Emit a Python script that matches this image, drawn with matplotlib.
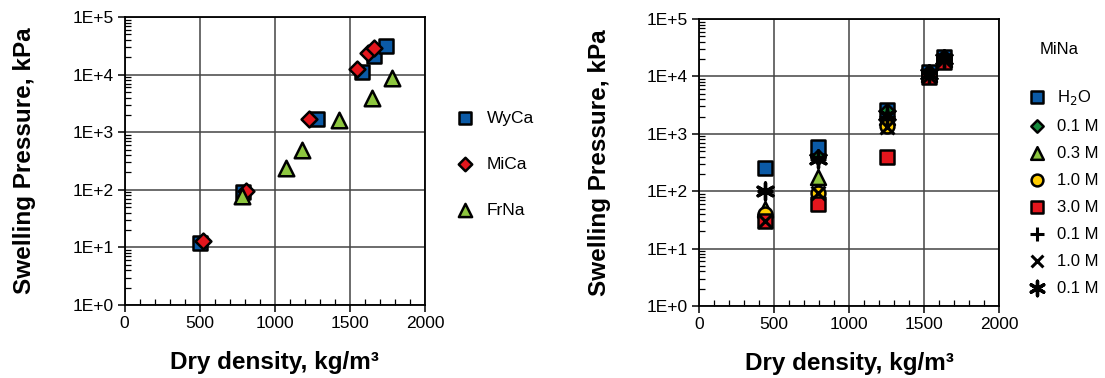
import numpy as np
import matplotlib
matplotlib.use("Agg")
import matplotlib.pyplot as plt
import matplotlib.ticker as mtick

plt.rcParams['font.family'] = ['Liberation Sans', 'DejaVu Sans']

# left panel: calcium / sodium bentonites
wyca_x = [500, 790, 1280, 1580, 1660, 1740]
wyca_y = [12, 90, 1700, 11200, 21000, 31000]
mica_x = [520, 810, 1230, 1550, 1620, 1660]
mica_y = [13, 97, 1700, 12400, 23500, 29000]
frna_x = [780, 1075, 1180, 1430, 1650, 1780]
frna_y = [78, 240, 500, 1650, 4000, 8800]

# right panel: MiNa at different salt solutions
mina_x = [440, 790, 1250, 1530, 1630]
h2o_y = [250, 600, 2600, 12000, 22000]
d01_y = [35, 400, 2500, 12000, 22000]
t03_y = [50, 180, 2000, 11000, 20000]
c10_y = [40, 95, 1350, 10000, 19000]
s30_y = [30, 60, 400, 9600, 18000]
p01_y = [100, 370, 2000, 11500, 20000]
x10_y = [30, 95, 1300, 10000, 19000]
a01_y = [100, 360, 2100, 11000, 20500]

blue = "#0b5aa6"
red = "#e3161d"
lgreen = "#8dc63f"
dgreen = "#168a3c"
yellow = "#ffcc00"

fig = plt.figure(figsize=(11.05, 3.78), dpi=100)
ax1 = fig.add_axes([0.1128, 0.1931, 0.2718, 0.762])
ax2 = fig.add_axes([0.6326, 0.1905, 0.2718, 0.759])


def style_axis(ax):
    ax.set_yscale('log')
    ax.set_xlim(0, 2000)
    ax.set_ylim(1, 1e5)
    ax.set_xticks([0, 500, 1000, 1500, 2000])
    ax.xaxis.set_minor_locator(mtick.MultipleLocator(100))
    ax.yaxis.set_major_locator(mtick.LogLocator(base=10, numticks=10))
    ax.yaxis.set_minor_locator(mtick.LogLocator(base=10, subs=np.arange(2, 10), numticks=10))
    ax.yaxis.set_minor_formatter(mtick.NullFormatter())
    ax.yaxis.set_major_formatter(mtick.FuncFormatter(lambda v, p: "1E+%d" % round(np.log10(v))))
    ax.grid(True, which='major', color='#444444', linewidth=1.1)
    ax.tick_params(which='both', labelsize=12.5, top=False, right=False)
    ax.tick_params(which='major', direction='out', length=5, width=1.1, pad=3)
    ax.tick_params(which='minor', direction='in', length=4, width=0.9)
    for s in ax.spines.values():
        s.set_linewidth(1.3)
    ax.set_xlabel("Dry density, kg/m³", fontsize=17.5, fontweight='bold', labelpad=14)
    ax.set_ylabel("Swelling Pressure, kPa", fontsize=17.5, fontweight='bold', labelpad=26)
    ax.set_axisbelow(True)


style_axis(ax1)
style_axis(ax2)

kw = dict(edgecolors='black', linewidths=1.8, zorder=3)
ax1.scatter(wyca_x, wyca_y, marker='s', s=115, c=blue, label='WyCa', **kw)
ax1.scatter(mica_x, mica_y, marker='D', s=65, c=red, label='MiCa', **kw)
ax1.scatter(frna_x, frna_y, marker='^', s=125, c=lgreen, label='FrNa', **kw)
ax1.legend(loc='upper left', bbox_to_anchor=(1.075, 0.675), frameon=False,
           fontsize=12.5, labelspacing=1.78, handletextpad=0.25, markerscale=0.85,
           borderaxespad=0, borderpad=0)

ax2.scatter(mina_x, h2o_y, marker='s', s=105, c=blue, label='H$_2$O', **kw)
ax2.scatter(mina_x, d01_y, marker='D', s=55, c=dgreen, label='0.1 M', **kw)
ax2.scatter(mina_x, t03_y, marker='^', s=115, c=lgreen, label='0.3 M', **kw)
ax2.scatter(mina_x, c10_y, marker='o', s=100, c=yellow, label='1.0 M', **kw)
ax2.scatter(mina_x, s30_y, marker='s', s=105, c=red, label='3.0 M', **kw)
ax2.scatter(mina_x, p01_y, marker='+', s=130, c='black', linewidths=2.2, zorder=3, label='0.1 M')
ax2.scatter(mina_x, x10_y, marker='x', s=100, c='black', linewidths=2.2, zorder=3, label='1.0 M')
ax2.scatter(mina_x, a01_y, marker=(6, 2, 0), s=150, c='black', linewidths=2.4, zorder=3, label='0.1 M')
leg = ax2.legend(loc='upper left', bbox_to_anchor=(1.07, 0.92), frameon=False,
                 fontsize=12, labelspacing=0.72, handletextpad=0.2, markerscale=0.85,
                 borderaxespad=0, borderpad=0, title='MiNa', title_fontsize=12)
leg._legend_box.sep = 22

fig.savefig("out.png", dpi=100)
